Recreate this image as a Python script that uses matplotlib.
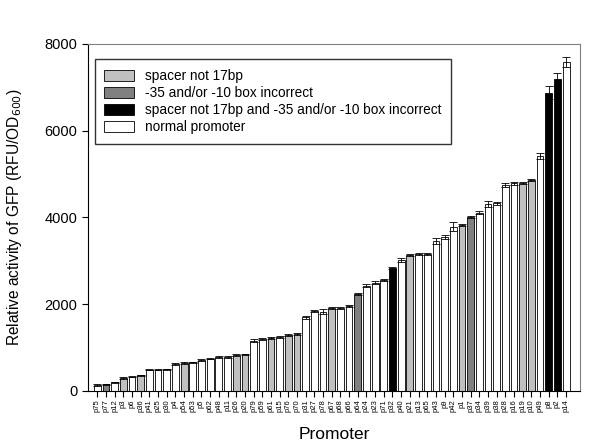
import numpy as np
import matplotlib.pyplot as plt

plt.rcParams['font.family'] = ['Liberation Sans', 'DejaVu Sans']

# promoter names, in plotted order
promoters = ['p75', 'p77', 'p12', 'p3', 'p6', 'p36', 'p41', 'p25', 'p30', 'p4',
             'p54', 'p53', 'p5', 'p62', 'p48', 'p11', 'p26', 'p20', 'p79', 'p59',
             'p61', 'p15', 'p76', 'p70', 'p31', 'p27', 'p78', 'p67', 'p68', 'p66',
             'p64', 'p24', 'p23', 'p71', 'p32', 'p40', 'p21', 'p13', 'p65', 'p43',
             'p9', 'p42', 'p1', 'p37', 'p34', 'p39', 'p38', 'p28', 'p16', 'p19',
             'p10', 'p49', 'p8', 'p2', 'p14']

gfp = [138, 154, 200, 300, 330, 361, 490, 490, 500, 615,
       646, 661, 715, 745, 784, 790, 822, 845, 1160, 1199,
       1222, 1253, 1291, 1314, 1698, 1851, 1830, 1920, 1920, 1960,
       2228, 2428, 2497, 2560, 2828, 3020, 3128, 3160, 3150, 3465,
       3543, 3788, 3826, 4003, 4110, 4310, 4326, 4748, 4787, 4787,
       4864, 5417, 6877, 7183, 7590]

err = [15, 15, 15, 15, 15, 15, 15, 15, 15, 20,
       15, 15, 15, 15, 15, 20, 20, 15, 30, 20,
       20, 20, 20, 20, 30, 20, 60, 20, 20, 20,
       20, 40, 40, 30, 20, 40, 20, 20, 20, 70,
       50, 110, 30, 20, 40, 60, 30, 40, 30, 20,
       20, 80, 150, 150, 110]

# 0 normal, 1 spacer, 2 box, 3 both
group = [0, 2, 0, 1, 0, 1, 0, 0, 0, 0,
         1, 0, 0, 0, 0, 0, 1, 1, 0, 0,
         1, 0, 1, 1, 0, 0, 0, 1, 0, 0,
         2, 0, 0, 0, 3, 0, 1, 0, 0, 0,
         0, 0, 1, 2, 0, 0, 0, 0, 0, 1,
         1, 0, 3, 3, 0]

labels = ['spacer not 17bp', '-35 and/or -10 box incorrect',
          'spacer not 17bp and -35 and/or -10 box incorrect', 'normal promoter']
colors = {0: 'white', 1: '#c0c0c0', 2: '#808080', 3: 'black'}

fig = plt.figure(figsize=(6, 4.47), dpi=100)
ax = fig.add_axes([0.1467, 0.1253, 0.82, 0.7763])

x = np.arange(len(promoters))
ax.bar(x, gfp, width=0.78, color=[colors[g] for g in group],
       edgecolor='black', linewidth=0.6)
ax.errorbar(x, gfp, yerr=err, fmt='none', ecolor='black', elinewidth=0.6,
            capsize=3, capthick=0.6)

ax.set_xlim(-1.07, 55.6)
ax.set_ylim(0, 8000)
ax.set_yticks([0, 2000, 4000, 6000, 8000])
ax.set_xticks(x)
ax.set_xticklabels(promoters, rotation=90, fontsize=5.5)
ax.tick_params(axis='y', labelsize=10.5, direction='out', length=4)
ax.tick_params(axis='x', direction='out', length=4, pad=2)
for s in ['top', 'right']:
    ax.spines[s].set_color('#808080')

ax.set_xlabel('Promoter', fontsize=12.5, labelpad=11)
ax.set_ylabel('Relative activity of GFP (RFU/OD$_{600}$)', fontsize=11.2, labelpad=15)

handles = [plt.Rectangle((0, 0), 1, 1, facecolor=colors[g], edgecolor='black', linewidth=0.6)
           for g in [1, 2, 3, 0]]
ax.legend(handles, labels, loc='upper left', bbox_to_anchor=(0.0, 0.975),
          fontsize=9.8, frameon=True, fancybox=False, edgecolor='black',
          handlelength=2.2, handleheight=0.9, labelspacing=0.22, borderpad=0.7)

plt.savefig('out.png', dpi=100)
